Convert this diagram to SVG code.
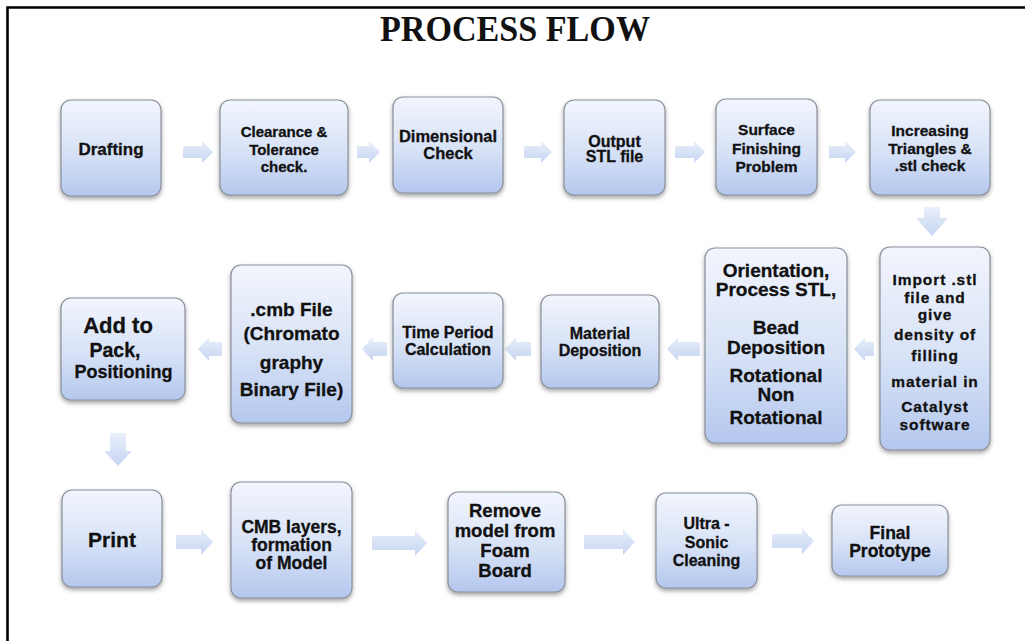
<svg xmlns="http://www.w3.org/2000/svg" width="1025" height="641" viewBox="0 0 1025 641">
<defs>
<linearGradient id="boxg" x1="0" y1="0" x2="0" y2="1">
<stop offset="0" stop-color="#f2f5fd"/>
<stop offset="0.55" stop-color="#d7e2f6"/>
<stop offset="1" stop-color="#b4c7ee"/>
</linearGradient>
<linearGradient id="arrg" x1="0" y1="0" x2="0" y2="1">
<stop offset="0" stop-color="#e9effb"/>
<stop offset="1" stop-color="#c6d5f1"/>
</linearGradient>
<filter id="sh" x="-10%" y="-10%" width="125%" height="130%">
<feDropShadow dx="0" dy="2.5" stdDeviation="2" flood-color="#555" flood-opacity="0.55"/>
</filter>
</defs>
<style>
.box{fill:url(#boxg);stroke:#8b919c;stroke-width:1.2;filter:url(#sh)}
.arr{fill:url(#arrg);stroke:none}
.t{font-family:"Liberation Sans",Arial,sans-serif;font-weight:bold;fill:#111;stroke:#111;stroke-width:0.3;text-anchor:middle}
.title{font-family:"Liberation Serif","Times New Roman",serif;font-weight:bold;font-size:35px;fill:#111;text-anchor:middle}
</style>
<rect width="1025" height="641" fill="#fff"/>
<path d="M7.5,641 V7.5 H1025" fill="none" stroke="#000" stroke-width="2.6"/>
<text class="title" x="515" y="41" textLength="270" lengthAdjust="spacingAndGlyphs">PROCESS FLOW</text>

<g id="connectors">
<path class="arr" d="M183,146 L202,146 L202,141 L213,152 L202,163 L202,158 L183,158 Z"/>
<path class="arr" d="M357,146 L369,146 L369,141 L380,152 L369,163 L369,158 L357,158 Z"/>
<path class="arr" d="M524,146 L541,146 L541,141 L552,152 L541,163 L541,158 L524,158 Z"/>
<path class="arr" d="M675,146 L694,146 L694,141 L705,152 L694,163 L694,158 L675,158 Z"/>
<path class="arr" d="M829,146 L845,146 L845,141 L856,152 L845,163 L845,158 L829,158 Z"/>
<path class="arr" d="M924,207 L940,207 L940,218 L948,218 L932,236 L916,218 L924,218 Z"/>
<path class="arr" d="M874,342 L865,342 L865,337 L854,349 L865,361 L865,356 L874,356 Z"/>
<path class="arr" d="M700,342 L678,342 L678,337 L667,349 L678,361 L678,356 L700,356 Z"/>
<path class="arr" d="M531,342 L516,342 L516,337 L505,349 L516,361 L516,356 L531,356 Z"/>
<path class="arr" d="M387,342 L373,342 L373,337 L362,349 L373,361 L373,356 L387,356 Z"/>
<path class="arr" d="M222,342 L209,342 L209,337 L198,349 L209,361 L209,356 L222,356 Z"/>
<path class="arr" d="M110,433 L126,433 L126,451 L132,451 L118,466 L104,451 L110,451 Z"/>
<path class="arr" d="M176,535 L201,535 L201,529 L213,542 L201,555 L201,549 L176,549 Z"/>
<path class="arr" d="M372,536 L415,536 L415,530 L427,543 L415,556 L415,550 L372,550 Z"/>
<path class="arr" d="M584,535 L623,535 L623,529 L635,542 L623,555 L623,549 L584,549 Z"/>
<path class="arr" d="M772,534 L802,534 L802,528 L814,541 L802,554 L802,548 L772,548 Z"/>
</g>

<g id="drafting"><rect class="box" x="61" y="100" width="100" height="96" rx="10"/>
<text class="t" font-size="17" x="111" y="155">Drafting</text></g>

<g id="clearance"><rect class="box" x="220" y="100" width="128" height="95" rx="10"/>
<text class="t" font-size="15" x="284"><tspan x="284" y="137">Clearance &amp;</tspan><tspan x="284" y="154.5">Tolerance</tspan><tspan x="284" y="172">check.</tspan></text></g>

<g id="dimensional"><rect class="box" x="393" y="97" width="110" height="96" rx="10"/>
<text class="t" font-size="16.5" x="448"><tspan x="448" y="142">Dimensional</tspan><tspan x="448" y="159">Check</tspan></text></g>

<g id="output"><rect class="box" x="564" y="100" width="101" height="95" rx="10"/>
<text class="t" font-size="16" x="614.5"><tspan x="614.5" y="146.5">Output</tspan><tspan x="614.5" y="162">STL file</tspan></text></g>

<g id="surface"><rect class="box" x="716" y="99" width="101" height="96" rx="10"/>
<text class="t" font-size="15.5" x="766.5"><tspan x="766.5" y="135">Surface</tspan><tspan x="766.5" y="153.5">Finishing</tspan><tspan x="766.5" y="172">Problem</tspan></text></g>

<g id="increasing"><rect class="box" x="870" y="100" width="120" height="95" rx="10"/>
<text class="t" font-size="15.5" x="930"><tspan x="930" y="136">Increasing</tspan><tspan x="930" y="154">Triangles &amp;</tspan><tspan x="930" y="171">.stl check</tspan></text></g>

<g id="import"><rect class="box" x="880" y="247" width="110" height="203" rx="10"/>
<text class="t" font-size="15.5" letter-spacing="0.9" x="935"><tspan x="935" y="285">Import .stl</tspan><tspan x="935" y="303">file and</tspan><tspan x="935" y="320">give</tspan><tspan x="935" y="340">density of</tspan><tspan x="935" y="361">filling</tspan><tspan x="935" y="387">material in</tspan><tspan x="935" y="412">Catalyst</tspan><tspan x="935" y="430">software</tspan></text></g>

<g id="orientation"><rect class="box" x="705" y="248" width="142" height="195" rx="10"/>
<text class="t" font-size="19" x="776"><tspan x="776" y="277">Orientation,</tspan><tspan x="776" y="296">Process STL,</tspan><tspan x="776" y="334">Bead</tspan><tspan x="776" y="354">Deposition</tspan><tspan x="776" y="382">Rotational</tspan><tspan x="776" y="401">Non</tspan><tspan x="776" y="424">Rotational</tspan></text></g>

<g id="material"><rect class="box" x="541" y="295" width="118" height="93" rx="10"/>
<text class="t" font-size="16" x="600"><tspan x="600" y="339">Material</tspan><tspan x="600" y="356">Deposition</tspan></text></g>

<g id="timeperiod"><rect class="box" x="393" y="293" width="110" height="95" rx="10"/>
<text class="t" font-size="16" x="448"><tspan x="448" y="338">Time Period</tspan><tspan x="448" y="355">Calculation</tspan></text></g>

<g id="cmbfile"><rect class="box" x="231" y="265" width="121" height="158" rx="10"/>
<text class="t" font-size="19" x="291.5"><tspan x="291.5" y="316">.cmb File</tspan><tspan x="291.5" y="340">(Chromato</tspan><tspan x="291.5" y="369">graphy</tspan><tspan x="291.5" y="396">Binary File)</tspan></text></g>

<g id="addtopack"><rect class="box" x="61" y="298" width="124" height="102" rx="10"/>
<text class="t" x="123"><tspan x="118" y="333" font-size="22">Add to</tspan><tspan x="115" y="357" font-size="19.5">Pack,</tspan><tspan x="123.5" y="378" font-size="18">Positioning</tspan></text></g>

<g id="print"><rect class="box" x="62" y="490" width="100" height="97" rx="10"/>
<text class="t" font-size="21" x="112" y="547">Print</text></g>

<g id="cmblayers"><rect class="box" x="231" y="482" width="121" height="116" rx="10"/>
<text class="t" font-size="17.5" x="291.5"><tspan x="291.5" y="533">CMB layers,</tspan><tspan x="291.5" y="551">formation</tspan><tspan x="291.5" y="569">of Model</tspan></text></g>

<g id="remove"><rect class="box" x="448" y="492" width="117" height="100" rx="10"/>
<text class="t" font-size="18.5" x="505"><tspan x="505" y="517">Remove</tspan><tspan x="505" y="537">model from</tspan><tspan x="505" y="557">Foam</tspan><tspan x="505" y="577">Board</tspan></text></g>

<g id="ultrasonic"><rect class="box" x="656" y="493" width="101" height="95" rx="10"/>
<text class="t" font-size="16" x="706.5"><tspan x="706.5" y="529">Ultra -</tspan><tspan x="706.5" y="548">Sonic</tspan><tspan x="706.5" y="566">Cleaning</tspan></text></g>

<g id="final"><rect class="box" x="832" y="505" width="116" height="71" rx="10"/>
<text class="t" font-size="17.5" x="890"><tspan x="890" y="538.5">Final</tspan><tspan x="890" y="557">Prototype</tspan></text></g>
</svg>
